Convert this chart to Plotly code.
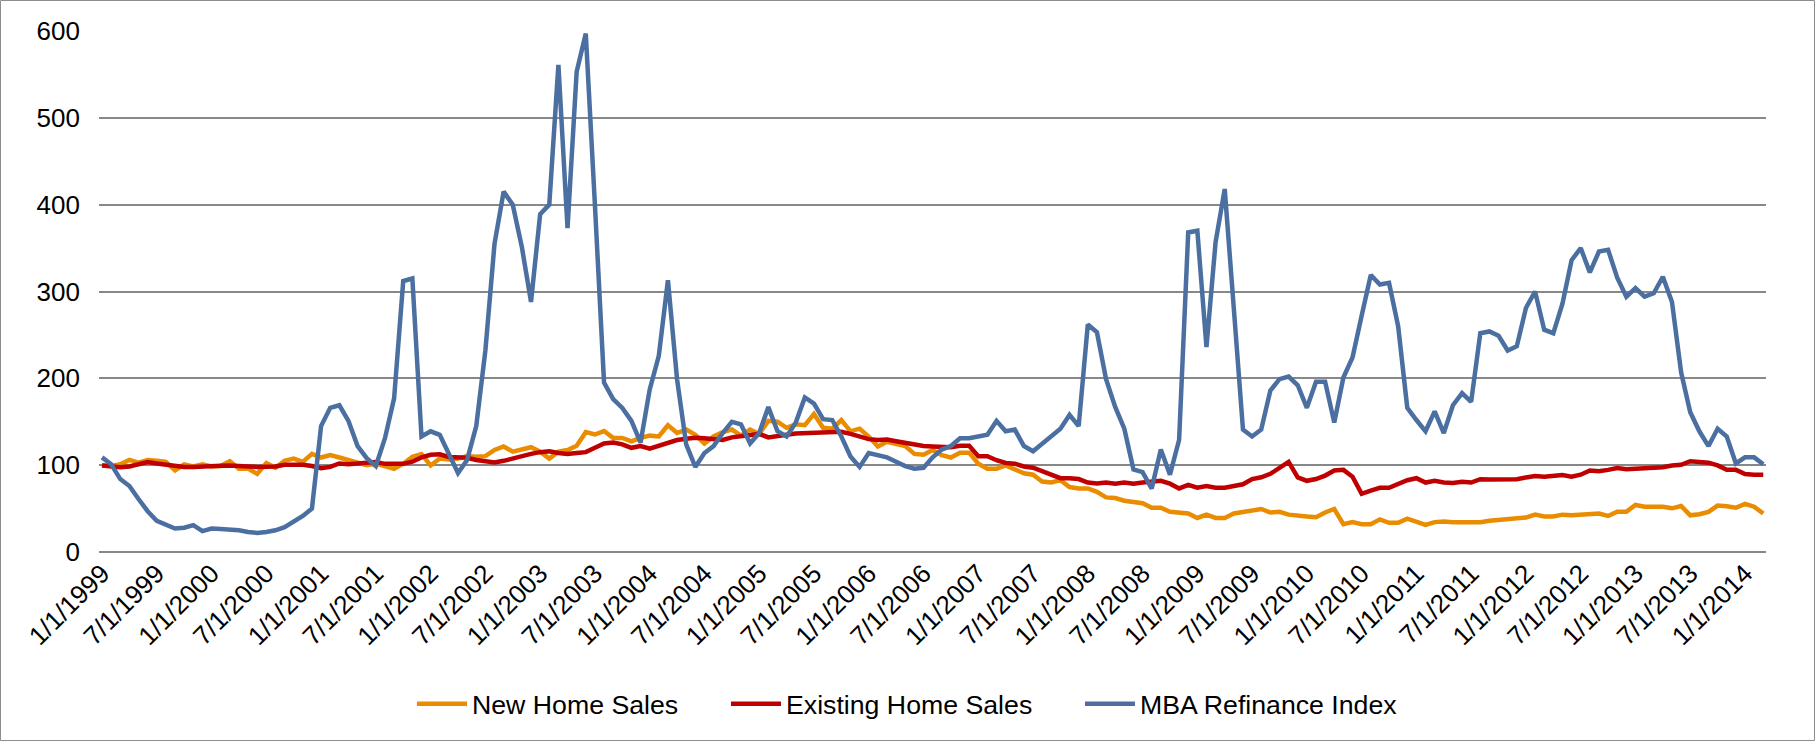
import pandas as pd
import plotly.graph_objects as go

# Monthly categories Jan 1999 .. Mar 2014
months = pd.date_range("1999-01-01", "2014-03-01", freq="MS")
categories = [f"{d.month}/{d.day}/{d.year}" for d in months]
tick_labels = categories[::6]

new_home_sales = [
    100, 99, 101, 106, 103, 106, 105, 103.7, 94, 101,
    98.5, 101, 98.5, 99, 104.5, 96, 96, 90, 102.5, 97,
    105, 107.6, 103.7, 113, 108.8, 111.6, 108.8, 105.7, 103.7, 100,
    101.7, 98.5, 95.8, 101.7, 109.6, 112.8, 99.7, 107.6, 106.5, 107.6,
    110.4, 109.6, 110.4, 117.5, 121.5, 115.6, 117.5, 120.7, 115.6, 107.6,
    115.6, 117.5, 122.3, 138, 135.3, 139.3, 131.4, 131.4, 127.4, 131.4,
    134, 133, 146, 137, 141, 135, 125, 133, 138, 141,
    134, 141, 136, 151, 150, 143, 147, 146, 159, 143,
    142, 152, 139, 142, 133, 121.5, 127, 125, 122, 113,
    112, 117.5, 111.6, 108.8, 114.4, 114.4, 101.7, 95.8, 95.8, 99.7,
    95.8, 90.6, 89, 81.1, 80, 82.7, 74.8, 73.2, 73.2, 69.3,
    62.9, 62.1, 59, 57.4, 56.2, 51, 51, 46.3, 45.5, 44.3,
    39.2, 43, 39.2, 39.2, 44.3, 46.3, 48.3, 49.5, 45.5, 46.3,
    43, 41.5, 40.8, 40, 45.5, 49.5, 32, 34.4, 32, 32,
    37.6, 33.6, 33.6, 38.4, 35.2, 31.3, 34.4, 35.2, 34.4, 34,
    33.6, 34.4, 36, 37, 38.4, 39.6, 39.6, 43, 41, 41,
    43, 42.3, 43, 43.5, 44.3, 41.5, 46.3, 46.3, 54.2, 52.2,
    52.2, 52.2, 50.3, 53, 42.3, 43.5, 46.3, 53.4, 52.6, 51,
    55.4, 52.2, 44.3,
]

existing_home_sales = [
    99.7, 98.5, 97.7, 98.5, 100.5, 103.5, 102, 100.5, 98.5, 98,
    98, 98.5, 100, 99.3, 99.5, 98.5, 98.5, 98, 98, 98.5,
    100.5, 101, 100.5, 99, 96.6, 98, 102, 101, 101.5, 102,
    103.5, 101.5, 101.5, 101.5, 104, 109, 112, 112.5, 109.5, 109,
    108.5, 106, 104, 103, 105, 108, 110, 113, 115, 116,
    114, 113, 114, 115, 120, 125, 126, 124, 120, 122,
    119, 122, 126, 129, 130.5, 131.5, 131, 129.5, 129, 132,
    133.5, 135, 136, 132, 133, 135, 136.5, 137, 137.5, 138,
    138.5, 138.5, 136, 133, 130, 129, 129.5, 127.5, 125.5, 124,
    122, 121.5, 120.7, 120.7, 122.3, 122.3, 110.4, 110.4, 105.7, 102.5,
    101.7, 98.5, 97, 93, 88, 85, 85, 84, 80, 79,
    80, 78.7, 80, 78.7, 80, 81, 82, 78.7, 73.2, 77.2,
    74, 76, 74, 74, 76, 78, 84, 86, 90, 97,
    103.7, 86, 82, 84, 88, 93.8, 94.6, 86.7, 67, 70.8,
    74, 74, 78.7, 82.7, 85, 80, 82, 80, 79.5, 81,
    80, 83.9, 83.5, 83.9, 84.7, 83.9, 85.9, 87.5, 86.7, 87.9,
    88.6, 86.7, 89, 93.8, 93, 94.6, 96.6, 95.4, 95.8, 97,
    97, 97.7, 99.7, 100.5, 104.5, 103.7, 102.9, 99.7, 94.6, 94.6,
    89.8, 89, 89,
]

mba_refinance_index = [
    109, 101, 84, 76, 61, 47, 36, 32, 27, 28,
    31, 24, 27, 26.5, 26, 25, 23, 22, 23, 25,
    28.5, 35, 41.5, 50, 145, 166, 169, 151, 122, 108,
    99, 131, 177, 312, 315, 133, 139, 135, 113, 91,
    106, 145, 232, 355, 415, 400, 351, 288, 389, 400,
    561, 373, 553, 597, 400, 195, 176, 166, 151, 126,
    187, 226, 313, 199, 124, 98, 114, 122, 137, 150,
    147, 125, 137, 167, 139, 133, 149, 178, 171, 153,
    152, 133, 110, 98, 114, 112, 109, 104, 99, 96,
    97, 109, 118, 122, 131, 131, 133, 135, 151, 139,
    141, 122, 116, 125, 134, 142, 158, 145, 262, 253,
    199, 167, 142, 95, 92, 73, 118, 89, 129, 368,
    370, 236, 357, 418, 280, 141, 133, 141, 186, 199,
    202, 192, 166, 196, 196, 149, 201, 224, 272, 319,
    308, 310, 260, 166, 152, 139, 162, 137, 169, 183,
    173, 252, 254, 249, 232, 237, 281, 300, 256, 252,
    286, 336, 350, 322, 346, 348, 316, 294, 304, 294,
    298, 317, 288, 207, 161, 139, 122, 142, 133, 102,
    109, 109, 101,
]

series = [
    ("New Home Sales", new_home_sales, "#EA8C00", "legend"),
    ("Existing Home Sales", existing_home_sales, "#C00000", "legend2"),
    ("MBA Refinance Index", mba_refinance_index, "#4A6FA0", "legend3"),
]

FONT = "Arial, 'Liberation Sans', sans-serif"

fig = go.Figure()
for name, vals, color, lg in series:
    fig.add_trace(go.Scatter(
        x=categories, y=vals, name=name, mode="lines",
        line=dict(color=color, width=4.5), legend=lg, showlegend=True,
    ))

W, H = 1816, 742
ML, MR, MT, MB = 99, 50, 31, 190
PW, PH = W - ML - MR, H - MT - MB

def px_to_paper_x(px):
    return (px - ML) / PW

def px_to_paper_y(py):
    return (H - MB - py) / PH

legend_common = dict(
    orientation="h", yanchor="middle", xanchor="left",
    font=dict(family=FONT, size=26.7, color="#000000"),
    bgcolor="rgba(0,0,0,0)", itemwidth=50, visible=True,
)

fig.update_layout(
    width=W, height=H,
    showlegend=True,
    margin=dict(l=ML, r=MR, t=MT, b=MB),
    paper_bgcolor="white", plot_bgcolor="white",
    font=dict(family=FONT, size=26, color="#000000"),
    legend=dict(x=px_to_paper_x(412), y=px_to_paper_y(704), **legend_common),
    legend2=dict(x=px_to_paper_x(726), y=px_to_paper_y(704), **legend_common),
    legend3=dict(x=px_to_paper_x(1080), y=px_to_paper_y(704), **legend_common),
    xaxis=dict(
        type="category",
        range=[-0.33, len(categories) - 1 + 0.3],
        tickmode="array", tickvals=tick_labels, ticktext=tick_labels,
        tickangle=-45, showgrid=False, zeroline=False, showline=False,
        ticks="", tickfont=dict(family=FONT, size=26, color="#000000"),
    ),
    yaxis=dict(
        range=[0, 600], tickmode="array", tickvals=[0, 100, 200, 300, 400, 500, 600],
        showgrid=True, gridcolor="#888888", gridwidth=2,
        zeroline=True, zerolinecolor="#888888", zerolinewidth=2,
        showline=False, ticks="", ticklabelstandoff=18,
        tickfont=dict(family=FONT, size=26, color="#000000"),
    ),
    shapes=[dict(
        type="rect", xref="paper", yref="paper",
        x0=px_to_paper_x(0.5), x1=px_to_paper_x(W - 1.5),
        y0=px_to_paper_y(H - 1.5), y1=px_to_paper_y(0.5),
        line=dict(color="#8c8c8c", width=1), fillcolor="rgba(0,0,0,0)",
        layer="below",
    )],
)

fig.write_html(
    "out.html",
    config={"displayModeBar": False},
    post_script="document.body.style.margin='0px';",
)
